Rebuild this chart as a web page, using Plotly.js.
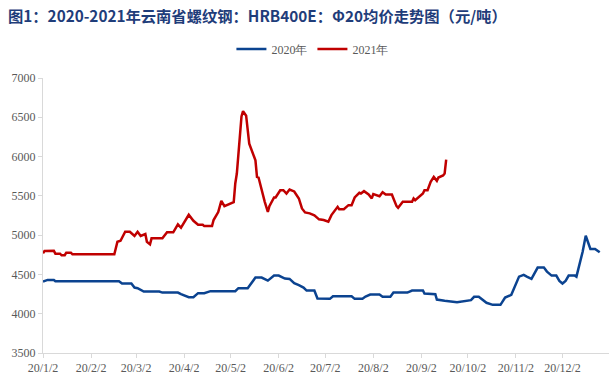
<!DOCTYPE html>
<html>
<head>
<meta charset="utf-8">
<script src="https://cdn.plot.ly/plotly-3.0.1.min.js"></script>
<style>html,body{margin:0;padding:0;background:#fff;}#chart{width:615px;height:385px;}</style>
</head>
<body>
<div id="chart"></div>
<script>
// Month-day of each observation (plotted on one shared calendar axis)
const days2020 = ['01-02','01-05','01-09','01-10','02-20','02-22','02-28','03-01','03-03','03-07','03-17','03-19','03-29','03-31','04-05','04-08','04-11','04-15','04-19','05-05','05-07','05-13','05-18','05-22','05-26','05-30','06-02','06-06','06-09','06-12','06-15','06-18','06-20','06-25','06-27','07-04','07-05','07-07','07-19','07-21','07-26','07-28','07-31','08-06','08-08','08-13','08-15','08-24','08-27','09-03','09-04','09-11','09-12','09-17','09-25','10-04','10-06','10-09','10-14','10-18','10-23','10-26','10-29','10-30','11-04','11-07','11-09','11-12','11-16','11-20','11-22','11-25','11-28','11-30','12-02','12-04','12-06','12-10','12-11','12-13','12-15','12-17','12-20','12-23','12-26'];
const price2020 = [4409,4430,4430,4414,4414,4384,4384,4333,4325,4282,4282,4269,4269,4249,4211,4211,4262,4262,4287,4287,4325,4325,4460,4460,4421,4485,4485,4447,4443,4388,4363,4333,4295,4295,4193,4193,4189,4223,4223,4189,4189,4218,4244,4244,4215,4215,4269,4269,4295,4295,4257,4249,4180,4164,4147,4173,4215,4215,4139,4113,4113,4206,4236,4240,4472,4494,4472,4443,4587,4587,4536,4485,4485,4418,4384,4418,4485,4485,4472,4621,4789,4992,4824,4824,4782];

const days2021 = ['01-02','01-03','01-09','01-10','01-13','01-14','01-16','01-17','01-20','01-21','02-17','02-19','02-21','02-24','02-27','03-01','03-03','03-05','03-08','03-09','03-11','03-12','03-19','03-22','03-26','03-29','03-31','04-05','04-08','04-11','04-14','04-15','04-20','04-21','04-24','04-26','04-28','05-04','05-05','05-06','05-09','05-10','05-12','05-13','05-14','05-18','05-19','05-20','05-23','05-24','05-26','05-27','05-30','05-31','06-03','06-05','06-07','06-08','06-09','06-12','06-15','06-17','06-19','06-22','06-25','06-28','07-01','07-04','07-06','07-10','07-11','07-14','07-17','07-19','07-21','07-24','07-25','07-27','07-30','08-01','08-02','08-06','08-08','08-10','08-14','08-15','08-17','08-18','08-21','08-23','08-27','08-28','08-29','09-03','09-04','09-06','09-08','09-10','09-12','09-13','09-16','09-17','09-18'];
const price2021 = [4769,4798,4800,4764,4764,4744,4744,4777,4777,4756,4756,4916,4929,5043,5043,4989,5043,4989,5014,4916,4883,4959,4959,5036,5036,5137,5094,5259,5183,5132,5132,5115,5115,5192,5293,5437,5369,5420,5657,5784,6511,6579,6520,6300,6165,5953,5741,5733,5487,5424,5297,5369,5480,5480,5572,5572,5530,5551,5581,5556,5467,5340,5289,5277,5251,5201,5192,5170,5255,5360,5331,5331,5382,5382,5480,5539,5530,5560,5518,5467,5522,5496,5547,5518,5518,5467,5369,5348,5424,5424,5424,5467,5445,5530,5572,5572,5678,5741,5691,5733,5759,5784,5962];

const tickDays = ['01-02','02-02','03-02','04-02','05-02','06-02','07-02','08-02','09-02','10-02','11-02','12-02'];
const tickLabels = ['20/1/2','20/2/2','20/3/2','20/4/2','20/5/2','20/6/2','20/7/2','20/8/2','20/9/2','20/10/2','20/11/2','20/12/2'];
const seriesNames = ['2020年','2021年'];
const titleText = '图1：2020-2021年云南省螺纹钢：HRB400E：Φ20均价走势图（元/吨）';

const toDate = md => '2020-' + md;

const traces = [
  {x: days2020.map(toDate), y: price2020, name: seriesNames[0], type: 'scatter', mode: 'lines',
   line: {color: '#0B4390', width: 2.5}},
  {x: days2021.map(toDate), y: price2021, name: seriesNames[1], type: 'scatter', mode: 'lines',
   line: {color: '#C00000', width: 2.5}}
];

const tickFont = {family: '"Liberation Serif", "Times New Roman", serif', size: 12, color: '#595959'};

const layout = {
  width: 615, height: 385,
  margin: {l: 43, r: 6, t: 78, b: 32},
  paper_bgcolor: '#ffffff', plot_bgcolor: '#ffffff',
  title: {text: titleText, x: 0.013, xanchor: 'left', xref: 'container', y: 0.958, yanchor: 'middle', yref: 'container',
          font: {family: '"Noto Sans CJK SC", sans-serif', size: 15.3, color: '#1F3D7A', weight: 'bold'}},
  showlegend: true,
  legend: {orientation: 'h', x: 0.508, xanchor: 'center', xref: 'container', y: 0.873, yanchor: 'middle', yref: 'container',
           font: tickFont, bgcolor: 'rgba(0,0,0,0)', itemwidth: 30, tracegroupgap: 0},
  xaxis: {type: 'date', range: ['2020-01-02', '2021-01-01'], tickvals: tickDays.map(toDate), ticktext: tickLabels,
          showgrid: false, zeroline: false, showline: true, linecolor: '#d9d9d9', linewidth: 1,
          ticks: 'outside', ticklen: 4, tickcolor: '#d9d9d9', tickfont: tickFont, tickangle: 0},
  yaxis: {range: [3500, 7000], dtick: 500, tick0: 3500, showgrid: false, zeroline: false, showline: true,
          linecolor: '#d9d9d9', linewidth: 1, ticks: 'outside', ticklen: 4, tickcolor: '#d9d9d9', tickfont: tickFont}
};

Plotly.newPlot('chart', traces, layout, {staticPlot: true, displayModeBar: false});
</script>
</body>
</html>
